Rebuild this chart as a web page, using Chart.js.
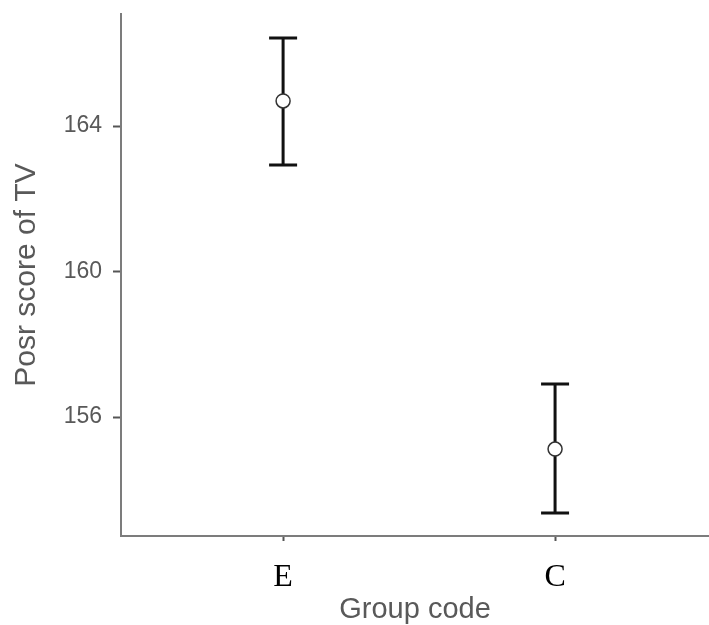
<!DOCTYPE html>
<html>
<head>
<meta charset="utf-8">
<title>Posr score of TV by group</title>
<script src="https://cdn.jsdelivr.net/npm/chart.js@4"></script>
<style>
  html, body { margin: 0; padding: 0; background: #fff; }
  #wrap { width: 709px; height: 625px; }
</style>
</head>
<body>
<div id="wrap"><canvas id="scoreChart"></canvas></div>
<script>
// Group means with their upper / lower interval ends
const groups = ["E", "C"];
const groupPos = [1, 2];
const means = [164.69, 155.12];
const upper = [166.42, 156.91];
const lower = [162.93, 153.36];
const yTicks = [156, 160, 164];

const axisGray = "#7c7c7c";
const textGray = "#595959";

// Draw the error bars before the points so the white circles sit on top
const errorBars = {
  id: "errorBars",
  beforeDatasetsDraw(chart) {
    const { ctx, scales: { x, y } } = chart;
    ctx.save();
    ctx.strokeStyle = "#111";
    ctx.lineWidth = 3;
    groupPos.forEach((g, i) => {
      const px = x.getPixelForValue(g);
      const top = y.getPixelForValue(upper[i]);
      const bot = y.getPixelForValue(lower[i]);
      ctx.beginPath();
      ctx.moveTo(px, top);
      ctx.lineTo(px, bot);
      ctx.moveTo(px - 14, top);
      ctx.lineTo(px + 14, top);
      ctx.moveTo(px - 14, bot);
      ctx.lineTo(px + 14, bot);
      ctx.stroke();
    });
    ctx.restore();
  }
};

// no extra room around the axes for tick labels
function noLabelPadding(axis) {
  axis.paddingTop = 0;
  axis.paddingBottom = 0;
  axis.paddingLeft = 0;
  axis.paddingRight = 0;
}

const ctx = document.getElementById("scoreChart").getContext("2d");
new Chart(ctx, {
  type: "scatter",
  data: {
    datasets: [{
      data: groupPos.map((g, i) => ({ x: g, y: means[i] })),
      pointRadius: 7,
      pointBackgroundColor: "#fff",
      pointBorderColor: "#333",
      pointBorderWidth: 1.5
    }]
  },
  options: {
    responsive: true,
    maintainAspectRatio: false,
    animation: false,
    layout: { autoPadding: false, padding: { top: 14, right: 0, bottom: 0, left: 0 } },
    plugins: {
      legend: { display: false },
      tooltip: { enabled: false }
    },
    scales: {
      x: {
        type: "linear",
        min: 0.404,
        max: 2.566,
        afterBuildTicks: (axis) => { axis.ticks = groupPos.map(v => ({ value: v })); },
        afterFit: (axis) => { axis.height = 89; noLabelPadding(axis); },
        border: { display: true, color: axisGray, width: 2 },
        grid: { drawOnChartArea: false, drawTicks: true, tickLength: 5, tickWidth: 2, tickColor: "#555" },
        ticks: {
          padding: 17,
          color: "#000",
          font: { family: "Liberation Serif", size: 32 },
          callback: (v) => groups[groupPos.indexOf(v)] ?? ""
        },
        title: {
          display: true,
          text: "Group code",
          color: textGray,
          font: { family: "Liberation Sans", size: 29, lineHeight: 1 },
          padding: { top: 0, bottom: 1 }
        }
      },
      y: {
        min: 152.73,
        max: 167.08,
        afterBuildTicks: (axis) => { axis.ticks = yTicks.map(v => ({ value: v })); },
        afterFit: (axis) => { axis.width = 121; noLabelPadding(axis); },
        border: { display: true, color: axisGray, width: 2 },
        grid: { drawOnChartArea: false, drawTicks: true, tickLength: 8, tickWidth: 2, tickColor: "#555" },
        ticks: {
          padding: 11,
          color: textGray,
          font: { family: "Liberation Sans", size: 23 }
        },
        title: {
          display: true,
          text: "Posr score of TV",
          color: textGray,
          font: { family: "Liberation Sans", size: 30, lineHeight: 1 },
          padding: { top: 12, bottom: 0 }
        }
      }
    }
  },
  plugins: [errorBars]
});
</script>
</body>
</html>
